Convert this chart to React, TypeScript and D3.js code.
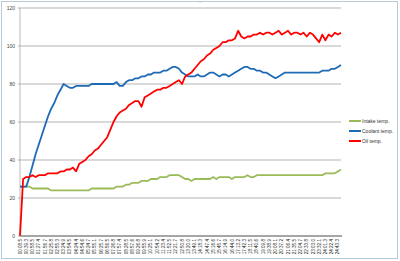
import React from "react";
import * as d3 from "d3";

const timeLabels = [
  "00:08.5","00:39.3","00:58.5","01:27.4","01:56.7","02:25.8","02:55.3","03:24.9","03:54.5","04:24.4",
  "04:54.6","05:24.7","05:55.1","06:25.7","06:56.5","07:26.8","07:57.4","08:28.5","08:57.6","09:26.8",
  "09:55.9","10:25.1","10:54.2","11:23.4","11:52.5","12:21.7","12:50.8","13:20.0","13:49.1","14:18.3",
  "14:47.4","15:16.6","15:45.7","16:14.9","16:44.0","17:13.2","17:42.3","18:11.5","18:40.6","19:09.8",
  "19:38.9","20:08.1","20:37.2","21:06.4","21:35.5","22:04.7","22:33.8","23:03.0","23:32.1","24:01.3",
  "24:22.4","24:43.3"
];

const intakeTemp = [
  26,26,26,26,25,25,25,25,25,25,24,24,24,24,24,24,24,24,24,24,
  24,24,24,25,25,25,25,25,25,25,25,26,26,26,27,27,28,28,28,29,
  29,29,30,30,30,31,31,31,32,32,32,32,31,30,30,29,30,30,30,30,
  30,30,31,30,31,31,31,31,30,31,31,31,31,32,31,31,32,32,32,32,
  32,32,32,32,32,32,32,32,32,32,32,32,32,32,32,32,32,32,33,33,
  33,33,34,35
];

const coolantTemp = [
  26,26,26,31,37,43,48,53,58,63,67,70,74,77,80,79,78,78,79,79,
  79,79,79,80,80,80,80,80,80,80,80,81,79,79,81,82,82,83,83,84,
  84,85,85,86,86,86,87,87,88,89,89,88,86,85,84,84,84,85,84,84,
  85,86,86,85,84,85,85,84,85,86,87,88,89,89,88,88,87,87,86,86,
  85,84,83,84,85,86,86,86,86,86,86,86,86,86,86,86,86,87,87,87,
  88,88,89,90
];

const oilTemp = [
  0,30,31,31,32,31,32,32,32,33,33,33,33,34,34,35,35,36,34,38,
  39,40,42,43,45,46,48,50,52,56,60,63,65,66,67,69,70,71,71,68,
  73,74,75,76,77,77,78,78,79,80,81,82,80,84,85,86,88,90,92,93,
  95,96,98,99,100,102,102,103,103,104,108,105,104,105,105,106,106,107,106,107,
  107,106,107,108,106,107,108,106,107,107,106,107,105,107,106,104,102,106,103,106,
  105,107,106,107
];

const yTicks = [0, 20, 40, 60, 80, 100, 120];

const seriesNames = ["Intake temp.", "Coolant temp.", "Oil temp."];
const seriesColors = ["#9bbb59", "#1f6ab4", "#ff0000"];

export default function App() {
  const W = 400, H = 261;
  const left = 20, right = 341, top = 8, bottom = 236;
  const n = oilTemp.length;
  const x = d3.scaleLinear().domain([0, n - 1]).range([left, right]);
  const y = d3.scaleLinear().domain([0, 120]).range([bottom, top]);
  const line = d3.line<number>().x((_, i) => x(i)).y((d) => y(d));
  const allSeries = [intakeTemp, coolantTemp, oilTemp];
  const font = "'Liberation Sans', Arial, sans-serif";

  return (
    <svg width={W} height={H} style={{ position: "absolute", left: 0, top: 0, background: "#fff" }}>
      <rect x={1.5} y={1.5} width={396} height={257} fill="#fff" stroke="#b9c9da" strokeWidth={1} />
      <text x={200} y={3} fontSize={4} fill="#999" textAnchor="middle" fontFamily={font}>....</text>
      {yTicks.map((t) => (
        <g key={t}>
          {t > 0 && <line x1={left} x2={right} y1={y(t)} y2={y(t)} stroke="#b3b3b3" strokeWidth={1} />}
          <text x={15} y={y(t) + 1.8} fontSize={5} fill="#444" textAnchor="end" fontFamily={font}>{t}</text>
          <line x1={left - 2} x2={left} y1={y(t)} y2={y(t)} stroke="#999" strokeWidth={0.8} />
        </g>
      ))}
      <line x1={left} x2={left} y1={top} y2={bottom} stroke="#aaa" strokeWidth={0.8} />
      {allSeries.map((s, k) => (
        <path key={k} d={line(s) || ""} fill="none" stroke={seriesColors[k]} strokeWidth={1.8} strokeLinejoin="round" />
      ))}
      <line x1={left} x2={right + 1} y1={bottom} y2={bottom} stroke="#888" strokeWidth={1.5} />
      {timeLabels.map((lab, i) => {
        const px = x(i * 2);
        return (
          <text key={i} transform={`translate(${px + 1.6},${bottom + 3}) rotate(-90)`} fontSize={4.6} fill="#222" textAnchor="end" fontFamily={font}>{lab}</text>
        );
      })}
      {seriesNames.map((nm, k) => (
        <g key={nm}>
          <line x1={349} x2={361} y1={121 + k * 10} y2={121 + k * 10} stroke={seriesColors[k]} strokeWidth={2} />
          <text x={362} y={122.8 + k * 10} fontSize={5} fill="#333" fontFamily={font}>{nm}</text>
        </g>
      ))}
    </svg>
  );
}
